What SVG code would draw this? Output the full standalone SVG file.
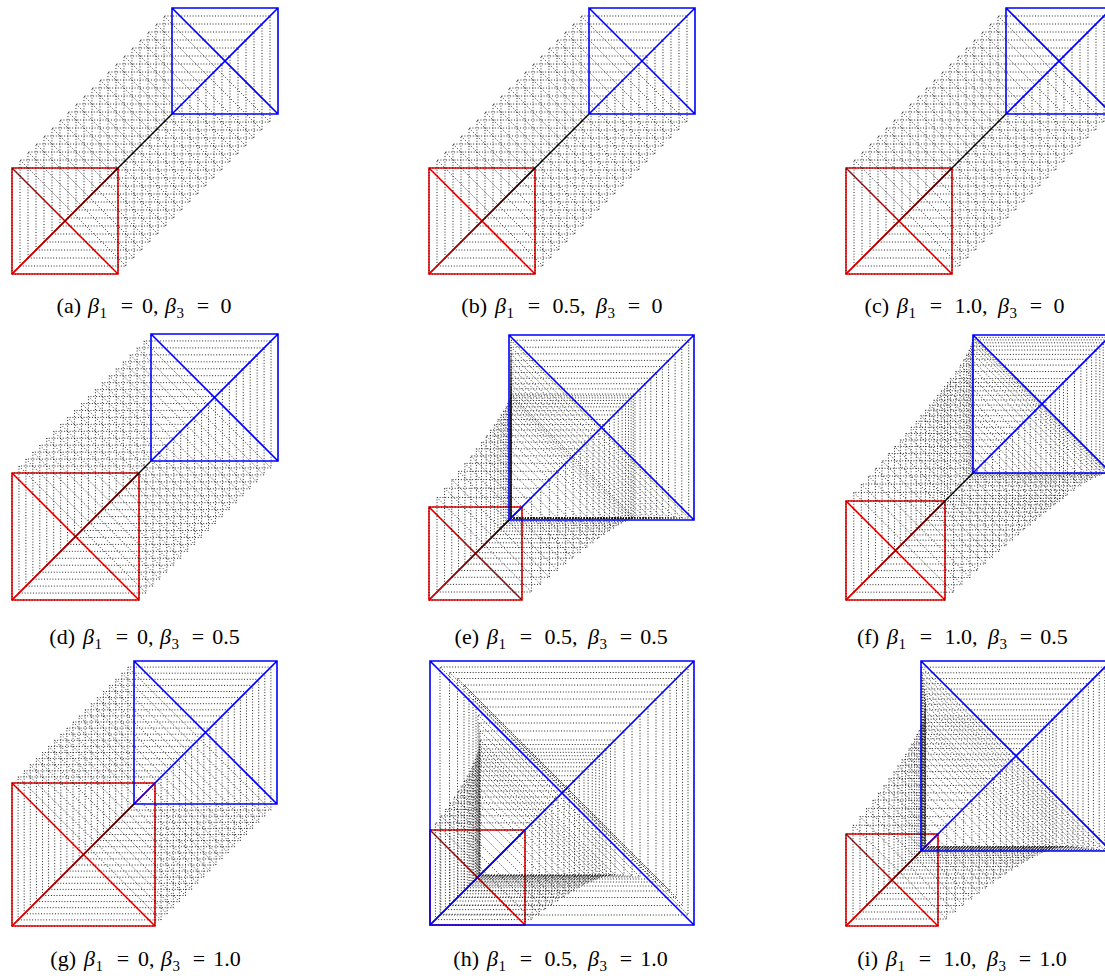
<svg xmlns="http://www.w3.org/2000/svg" width="1105" height="976" viewBox="0 0 1105 976">
<style>
.fr{fill:none;stroke:#111;stroke-width:0.9;stroke-dasharray:1 1.8}
.rd{fill:none;stroke:#f00;stroke-width:1.6}
.bl{fill:none;stroke:#00f;stroke-width:1.6}
.pl{fill:none;stroke:#000;stroke-width:1.4}
.gl{fill:none;stroke:url(#g);stroke-width:1.4}
.cap text{font-family:"Liberation Serif",serif;font-size:22px;fill:#000}
.it{font-style:italic}
.sb{font-size:15px}
</style>
<defs>
<linearGradient id="g" x1="0" y1="1" x2="1" y2="0">
<stop offset="0" stop-color="#e00000"/>
<stop offset="1" stop-color="#000"/>
</linearGradient>
</defs>
<rect width="1105" height="976" fill="#fff"/>

<g id="panel-a">
<path class="rd" d="M12 274h106v-106h-106zm0-106l106 106M12 274l106-106"/>
<path class="fr" d="M12 274h106v-106h-106zm0-106l106 106M20 266h106v-106h-106zm0-106l106 106M28 258h106v-106h-106zm0-106l106 106M36 250h106v-106h-106zm0-106l106 106M44 242h106v-106h-106zm0-106l106 106M52 234h106v-106h-106zm0-106l106 106M60 226h106v-106h-106zm0-106l106 106M68 218h106v-106h-106zm0-106l106 106M76 210h106v-106h-106zm0-106l106 106M84 202h106v-106h-106zm0-106l106 106M92 194h106v-106h-106zm0-106l106 106M100 186h106v-106h-106zm0-106l106 106M108 178h106v-106h-106zm0-106l106 106M116 170h106v-106h-106zm0-106l106 106M124 162h106v-106h-106zm0-106l106 106M132 154h106v-106h-106zm0-106l106 106M140 146h106v-106h-106zm0-106l106 106M148 138h106v-106h-106zm0-106l106 106M156 130h106v-106h-106zm0-106l106 106M164 122h106v-106h-106zm0-106l106 106"/>
<path class="bl" d="M172 114h106v-106h-106zm0-106l106 106M172 114l106-106"/>
<line class="gl" x1="12" y1="274" x2="118" y2="168"/>
<line class="pl" x1="118" y1="168" x2="172" y2="114"/>
</g>

<g id="panel-b">
<path class="rd" d="M429 274h106v-106h-106zm0-106l106 106M429 274l106-106"/>
<path class="fr" d="M429 274h106v-106h-106zm0-106l106 106M437 266h106v-106h-106zm0-106l106 106M445 258h106v-106h-106zm0-106l106 106M453 250h106v-106h-106zm0-106l106 106M461 242h106v-106h-106zm0-106l106 106M469 234h106v-106h-106zm0-106l106 106M477 226h106v-106h-106zm0-106l106 106M485 218h106v-106h-106zm0-106l106 106M493 210h106v-106h-106zm0-106l106 106M501 202h106v-106h-106zm0-106l106 106M509 194h106v-106h-106zm0-106l106 106M517 186h106v-106h-106zm0-106l106 106M525 178h106v-106h-106zm0-106l106 106M533 170h106v-106h-106zm0-106l106 106M541 162h106v-106h-106zm0-106l106 106M549 154h106v-106h-106zm0-106l106 106M557 146h106v-106h-106zm0-106l106 106M565 138h106v-106h-106zm0-106l106 106M573 130h106v-106h-106zm0-106l106 106M581 122h106v-106h-106zm0-106l106 106"/>
<path class="bl" d="M589 114h106v-106h-106zm0-106l106 106M589 114l106-106"/>
<line class="gl" x1="429" y1="274" x2="535" y2="168"/>
<line class="pl" x1="535" y1="168" x2="589" y2="114"/>
</g>

<g id="panel-c">
<path class="rd" d="M846 274h106v-106h-106zm0-106l106 106M846 274l106-106"/>
<path class="fr" d="M846 274h106v-106h-106zm0-106l106 106M854 266h106v-106h-106zm0-106l106 106M862 258h106v-106h-106zm0-106l106 106M870 250h106v-106h-106zm0-106l106 106M878 242h106v-106h-106zm0-106l106 106M886 234h106v-106h-106zm0-106l106 106M894 226h106v-106h-106zm0-106l106 106M902 218h106v-106h-106zm0-106l106 106M910 210h106v-106h-106zm0-106l106 106M918 202h106v-106h-106zm0-106l106 106M926 194h106v-106h-106zm0-106l106 106M934 186h106v-106h-106zm0-106l106 106M942 178h106v-106h-106zm0-106l106 106M950 170h106v-106h-106zm0-106l106 106M958 162h106v-106h-106zm0-106l106 106M966 154h106v-106h-106zm0-106l106 106M974 146h106v-106h-106zm0-106l106 106M982 138h106v-106h-106zm0-106l106 106M990 130h106v-106h-106zm0-106l106 106M998 122h106v-106h-106zm0-106l106 106"/>
<path class="bl" d="M1006 114h106v-106h-106zm0-106l106 106M1006 114l106-106"/>
<line class="gl" x1="846" y1="274" x2="952" y2="168"/>
<line class="pl" x1="952" y1="168" x2="1006" y2="114"/>
</g>

<g id="panel-d">
<path class="rd" d="M12 600h127v-127h-127zm0-127l127 127M12 600l127-127"/>
<path class="fr" d="M12 600h127v-127h-127zm0-127l127 127M18.95 593.05h127v-127h-127zm0-127l127 127M25.9 586.1h127v-127h-127zm0-127l127 127M32.85 579.15h127v-127h-127zm0-127l127 127M39.8 572.2h127v-127h-127zm0-127l127 127M46.75 565.25h127v-127h-127zm0-127l127 127M53.7 558.3h127v-127h-127zm0-127l127 127M60.65 551.35h127v-127h-127zm0-127l127 127M67.6 544.4h127v-127h-127zm0-127l127 127M74.55 537.45h127v-127h-127zm0-127l127 127M81.5 530.5h127v-127h-127zm0-127l127 127M88.45 523.55h127v-127h-127zm0-127l127 127M95.4 516.6h127v-127h-127zm0-127l127 127M102.35 509.65h127v-127h-127zm0-127l127 127M109.3 502.7h127v-127h-127zm0-127l127 127M116.25 495.75h127v-127h-127zm0-127l127 127M123.2 488.8h127v-127h-127zm0-127l127 127M130.15 481.85h127v-127h-127zm0-127l127 127M137.1 474.9h127v-127h-127zm0-127l127 127M144.05 467.95h127v-127h-127zm0-127l127 127"/>
<path class="bl" d="M151 461h127v-127h-127zm0-127l127 127M151 461l127-127"/>
<line class="gl" x1="12" y1="600" x2="139" y2="473"/>
<line class="pl" x1="139" y1="473" x2="151" y2="461"/>
</g>

<g id="panel-e">
<path class="rd" d="M429 600h93v-93h-93zm0-93l93 93M429 600l93-93"/>
<path class="fr" d="M429 600h93v-93h-93zm0-93l93 93M437 592h94.55v-94.55h-94.55zm0-94.55l94.55 94.55M444.6 584.4h96.1v-96.1h-96.1zm0-96.1l96.1 96.1M451.75 577.25h97.65v-97.65h-97.65zm0-97.65l97.65 97.65M458.5 570.5h99.2v-99.2h-99.2zm0-99.2l99.2 99.2M464.9 564.1h100.75v-100.75h-100.75zm0-100.75l100.75 100.75M470.8 558.2h102.3v-102.3h-102.3zm0-102.3l102.3 102.3M476.35 552.65h103.85v-103.85h-103.85zm0-103.85l103.85 103.85M481.5 547.5h105.4v-105.4h-105.4zm0-105.4l105.4 105.4M486.2 542.8h106.95v-106.95h-106.95zm0-106.95l106.95 106.95M490.5 538.5h108.5v-108.5h-108.5zm0-108.5l108.5 108.5M494.4 534.6h110.05v-110.05h-110.05zm0-110.05l110.05 110.05M497.9 531.1h111.6v-111.6h-111.6zm0-111.6l111.6 111.6M500.95 528.05h113.15v-113.15h-113.15zm0-113.15l113.15 113.15M503.6 525.4h114.7v-114.7h-114.7zm0-114.7l114.7 114.7M505.9 523.1h116.25v-116.25h-116.25zm0-116.25l116.25 116.25M507.7 521.3h117.8v-117.8h-117.8zm0-117.8l117.8 117.8M509.15 519.85h119.35v-119.35h-119.35zm0-119.35l119.35 119.35M510.2 518.8h120.9v-120.9h-120.9zm0-120.9l120.9 120.9M510.8 518.2h122.45v-122.45h-122.45zm0-122.45l122.45 122.45M511 518h124v-124h-124zm0-124l124 124M511 518h129.1v-129.1h-129.1zm0-129.1l129.1 129.1M511 518h134.3v-134.3h-134.3zm0-134.3l134.3 134.3M511 518h139.8v-139.8h-139.8zm0-139.8l139.8 139.8M511 518h145.5v-145.5h-145.5zm0-145.5l145.5 145.5M511 518h151.4v-151.4h-151.4zm0-151.4l151.4 151.4M511 518h157.6v-157.6h-157.6zm0-157.6l157.6 157.6M511 518h164.1v-164.1h-164.1zm0-164.1l164.1 164.1M511 518h170.8v-170.8h-170.8zm0-170.8l170.8 170.8M511 518h177.7v-177.7h-177.7zm0-177.7l177.7 177.7"/>
<path class="bl" d="M509 520h185v-185h-185zm0-185l185 185M509 520l185-185"/>
<line class="gl" x1="429" y1="600" x2="509" y2="520"/>
</g>

<g id="panel-f">
<path class="rd" d="M846 600h99v-99h-99zm0-99l99 99M846 600l99-99"/>
<path class="fr" d="M846 600h99v-99h-99zm0-99l99 99M853.8 592.2h99.8v-99.8h-99.8zm0-99.8l99.8 99.8M861.3 584.7h100.7v-100.7h-100.7zm0-100.7l100.7 100.7M868.5 577.5h101.5v-101.5h-101.5zm0-101.5l101.5 101.5M875.4 570.6h102.3v-102.3h-102.3zm0-102.3l102.3 102.3M882 564h103.2v-103.2h-103.2zm0-103.2l103.2 103.2M888.4 557.6h104.1v-104.1h-104.1zm0-104.1l104.1 104.1M894.5 551.5h105v-105h-105zm0-105l105 105M900.3 545.7h105.8v-105.8h-105.8zm0-105.8l105.8 105.8M905.8 540.2h106.7v-106.7h-106.7zm0-106.7l106.7 106.7M911.1 534.9h107.6v-107.6h-107.6zm0-107.6l107.6 107.6M916.2 529.8h108.5v-108.5h-108.5zm0-108.5l108.5 108.5M920.9 525.1h109.4v-109.4h-109.4zm0-109.4l109.4 109.4M925.5 520.5h110.3v-110.3h-110.3zm0-110.3l110.3 110.3M929.7 516.3h111.2v-111.2h-111.2zm0-111.2l111.2 111.2M933.8 512.2h112.2v-112.2h-112.2zm0-112.2l112.2 112.2M937.6 508.4h113.1v-113.1h-113.1zm0-113.1l113.1 113.1M941.2 504.8h114v-114h-114zm0-114l114 114M944.5 501.5h115v-115h-115zm0-115l115 115M947.6 498.4h115.9v-115.9h-115.9zm0-115.9l115.9 115.9M950.5 495.5h116.9v-116.9h-116.9zm0-116.9l116.9 116.9M955.7 490.3h118.8v-118.8h-118.8zm0-118.8l118.8 118.8M960.1 485.9h120.8v-120.8h-120.8zm0-120.8l120.8 120.8M963.8 482.2h122.9v-122.9h-122.9zm0-122.9l122.9 122.9M966.7 479.3h124.9v-124.9h-124.9zm0-124.9l124.9 124.9M969 477h127v-127h-127zm0-127l127 127M970.7 475.3h129.1v-129.1h-129.1zm0-129.1l129.1 129.1M971.9 474.1h131.3v-131.3h-131.3zm0-131.3l131.3 131.3M972.6 473.4h133.5v-133.5h-133.5zm0-133.5l133.5 133.5M972.9 473.1h135.7v-135.7h-135.7zm0-135.7l135.7 135.7"/>
<path class="bl" d="M973 473h138v-138h-138zm0-138l138 138M973 473l138-138"/>
<line class="gl" x1="846" y1="600" x2="945" y2="501"/>
<line class="pl" x1="945" y1="501" x2="973" y2="473"/>
</g>

<g id="panel-g">
<path class="rd" d="M12 926h143v-143h-143zm0-143l143 143M12 926l143-143"/>
<path class="fr" d="M12 926h143v-143h-143zm0-143l143 143M18.1 919.9h143v-143h-143zm0-143l143 143M24.2 913.8h143v-143h-143zm0-143l143 143M30.3 907.7h143v-143h-143zm0-143l143 143M36.4 901.6h143v-143h-143zm0-143l143 143M42.5 895.5h143v-143h-143zm0-143l143 143M48.6 889.4h143v-143h-143zm0-143l143 143M54.7 883.3h143v-143h-143zm0-143l143 143M60.8 877.2h143v-143h-143zm0-143l143 143M66.9 871.1h143v-143h-143zm0-143l143 143M73 865h143v-143h-143zm0-143l143 143M79.1 858.9h143v-143h-143zm0-143l143 143M85.2 852.8h143v-143h-143zm0-143l143 143M91.3 846.7h143v-143h-143zm0-143l143 143M97.4 840.6h143v-143h-143zm0-143l143 143M103.5 834.5h143v-143h-143zm0-143l143 143M109.6 828.4h143v-143h-143zm0-143l143 143M115.7 822.3h143v-143h-143zm0-143l143 143M121.8 816.2h143v-143h-143zm0-143l143 143M127.9 810.1h143v-143h-143zm0-143l143 143"/>
<path class="bl" d="M134 804h143v-143h-143zm0-143l143 143M134 804l143-143"/>
<line class="gl" x1="12" y1="926" x2="134" y2="804"/>
</g>

<g id="panel-h">
<path class="rd" d="M430 925h95v-95h-95zm0-95l95 95M430 925l95-95"/>
<path class="fr" d="M430 925h95v-95h-95zm0-95l95 95M435.4 919.6h96.75v-96.75h-96.75zm0-96.75l96.75 96.75M440.75 914.25h98.5v-98.5h-98.5zm0-98.5l98.5 98.5M445.4 909.6h100.25v-100.25h-100.25zm0-100.25l100.25 100.25M450 905h102v-102h-102zm0-102l102 102M454 901h104v-104h-104zm0-104l104 104M458 897h106v-106h-106zm0-106l106 106M461.25 893.75h108v-108h-108zm0-108l108 108M464.5 890.5h110v-110h-110zm0-110l110 110M467.25 887.75h112v-112h-112zm0-112l112 112M470 885h114v-114h-114zm0-114l114 114M471.9 883.1h116.25v-116.25h-116.25zm0-116.25l116.25 116.25M473.75 881.25h118.5v-118.5h-118.5zm0-118.5l118.5 118.5M475.25 879.75h120.5v-120.5h-120.5zm0-120.5l120.5 120.5M476.75 878.25h122.5v-122.5h-122.5zm0-122.5l122.5 122.5M477.9 877.1h124.75v-124.75h-124.75zm0-124.75l124.75 124.75M479 876h127v-127h-127zm0-127l127 127M479.5 875.5h131v-131h-131zm0-131l131 131M480 875h135v-135h-135zm0-135l135 135M480 875h144v-144h-144zm0-144l144 144M479 876h153v-153h-153zm0-153l153 153M478 877h162v-162h-162zm0-162l162 162M476 879h172v-172h-172zm0-172l172 172M473 882h183v-183h-183zm0-183l183 183M469 886h194v-194h-194zm0-194l194 194M464 891h206v-206h-206zm0-206l206 206M457.5 897.5h219v-219h-219zm0-219l219 219M449.5 905.5h233v-233h-233zm0-233l233 233M440 915h248v-248h-248zm0-248l248 248"/>
<path class="bl" d="M430 925h264v-264h-264zm0-264l264 264M430 925l264-264"/>
</g>

<g id="panel-i">
<path class="rd" d="M846 926h92v-92h-92zm0-92l92 92M846 926l92-92"/>
<path class="fr" d="M846 926h92v-92h-92zm0-92l92 92M853 919h93.7v-93.7h-93.7zm0-93.7l93.7 93.7M860 912h95.4v-95.4h-95.4zm0-95.4l95.4 95.4M866.5 905.5h97.1v-97.1h-97.1zm0-97.1l97.1 97.1M873 899h98.9v-98.9h-98.9zm0-98.9l98.9 98.9M878.5 893.5h100.7v-100.7h-100.7zm0-100.7l100.7 100.7M884 888h102.6v-102.6h-102.6zm0-102.6l102.6 102.6M889 883h104.5v-104.5h-104.5zm0-104.5l104.5 104.5M894 878h106.4v-106.4h-106.4zm0-106.4l106.4 106.4M898 874h108.3v-108.3h-108.3zm0-108.3l108.3 108.3M902 870h110.3v-110.3h-110.3zm0-110.3l110.3 110.3M905.5 866.5h112.3v-112.3h-112.3zm0-112.3l112.3 112.3M909 863h114.4v-114.4h-114.4zm0-114.4l114.4 114.4M911.75 860.25h116.5v-116.5h-116.5zm0-116.5l116.5 116.5M914.5 857.5h118.6v-118.6h-118.6zm0-118.6l118.6 118.6M916.75 855.25h120.8v-120.8h-120.8zm0-120.8l120.8 120.8M919 853h123v-123h-123zm0-123l123 123M920.5 851.5h125.2v-125.2h-125.2zm0-125.2l125.2 125.2M922 850h127.5v-127.5h-127.5zm0-127.5l127.5 127.5M923 849h129.8v-129.8h-129.8zm0-129.8l129.8 129.8M924 848h132.2v-132.2h-132.2zm0-132.2l132.2 132.2M925 847h137.1v-137.1h-137.1zm0-137.1l137.1 137.1M925.5 846.5h142.2v-142.2h-142.2zm0-142.2l142.2 142.2M925.5 846.5h147.4v-147.4h-147.4zm0-147.4l147.4 147.4M925 847h152.9v-152.9h-152.9zm0-152.9l152.9 152.9M924.5 847.5h158.5v-158.5h-158.5zm0-158.5l158.5 158.5M924 848h164.4v-164.4h-164.4zm0-164.4l164.4 164.4M923 849h170.4v-170.4h-170.4zm0-170.4l170.4 170.4M922.5 849.5h176.7v-176.7h-176.7zm0-176.7l176.7 176.7M921.5 850.5h183.3v-183.3h-183.3zm0-183.3l183.3 183.3"/>
<path class="bl" d="M921 851h190v-190h-190zm0-190l190 190M921 851l190-190"/>
<line class="gl" x1="846" y1="926" x2="921" y2="851"/>
</g>

<g id="captions" class="cap">
<g id="cap-a"><text x="81" y="313" text-anchor="end">(a)</text><text y="313"><tspan x="88" class="it">β</tspan><tspan x="99.5" dy="5" class="sb">1</tspan><tspan x="120.8" dy="-5">=</tspan><tspan x="142">0,</tspan><tspan x="165" class="it">β</tspan><tspan x="176.5" dy="5" class="sb">3</tspan><tspan x="196.8" dy="-5">=</tspan><tspan x="220.5">0</tspan></text></g>
<g id="cap-b"><text x="487" y="313" text-anchor="end">(b)</text><text y="313"><tspan x="495" class="it">β</tspan><tspan x="506.5" dy="5" class="sb">1</tspan><tspan x="527.8" dy="-5">=</tspan><tspan x="552.5">0.5,</tspan><tspan x="596" class="it">β</tspan><tspan x="607.5" dy="5" class="sb">3</tspan><tspan x="627.8" dy="-5">=</tspan><tspan x="651.5">0</tspan></text></g>
<g id="cap-c"><text x="889" y="313" text-anchor="end">(c)</text><text y="313"><tspan x="897" class="it">β</tspan><tspan x="908.5" dy="5" class="sb">1</tspan><tspan x="929.8" dy="-5">=</tspan><tspan x="954.5">1.0,</tspan><tspan x="998" class="it">β</tspan><tspan x="1009.5" dy="5" class="sb">3</tspan><tspan x="1029.8" dy="-5">=</tspan><tspan x="1053.5">0</tspan></text></g>
<g id="cap-d"><text x="75" y="644" text-anchor="end">(d)</text><text y="644"><tspan x="83" class="it">β</tspan><tspan x="94.5" dy="5" class="sb">1</tspan><tspan x="115.8" dy="-5">=</tspan><tspan x="137">0,</tspan><tspan x="160" class="it">β</tspan><tspan x="171.5" dy="5" class="sb">3</tspan><tspan x="191.8" dy="-5">=</tspan><tspan x="212.25">0.5</tspan></text></g>
<g id="cap-e"><text x="479" y="644" text-anchor="end">(e)</text><text y="644"><tspan x="487" class="it">β</tspan><tspan x="498.5" dy="5" class="sb">1</tspan><tspan x="519.8" dy="-5">=</tspan><tspan x="544.5">0.5,</tspan><tspan x="588" class="it">β</tspan><tspan x="599.5" dy="5" class="sb">3</tspan><tspan x="619.8" dy="-5">=</tspan><tspan x="640.25">0.5</tspan></text></g>
<g id="cap-f"><text x="879" y="644" text-anchor="end">(f)</text><text y="644"><tspan x="887" class="it">β</tspan><tspan x="898.5" dy="5" class="sb">1</tspan><tspan x="919.8" dy="-5">=</tspan><tspan x="944.5">1.0,</tspan><tspan x="988" class="it">β</tspan><tspan x="999.5" dy="5" class="sb">3</tspan><tspan x="1019.8" dy="-5">=</tspan><tspan x="1040.25">0.5</tspan></text></g>
<g id="cap-g"><text x="76" y="966" text-anchor="end">(g)</text><text y="966"><tspan x="84" class="it">β</tspan><tspan x="95.5" dy="5" class="sb">1</tspan><tspan x="116.8" dy="-5">=</tspan><tspan x="138">0,</tspan><tspan x="161" class="it">β</tspan><tspan x="172.5" dy="5" class="sb">3</tspan><tspan x="192.8" dy="-5">=</tspan><tspan x="213.25">1.0</tspan></text></g>
<g id="cap-h"><text x="479" y="966" text-anchor="end">(h)</text><text y="966"><tspan x="487" class="it">β</tspan><tspan x="498.5" dy="5" class="sb">1</tspan><tspan x="519.8" dy="-5">=</tspan><tspan x="544.5">0.5,</tspan><tspan x="588" class="it">β</tspan><tspan x="599.5" dy="5" class="sb">3</tspan><tspan x="619.8" dy="-5">=</tspan><tspan x="640.25">1.0</tspan></text></g>
<g id="cap-i"><text x="878" y="966" text-anchor="end">(i)</text><text y="966"><tspan x="886" class="it">β</tspan><tspan x="897.5" dy="5" class="sb">1</tspan><tspan x="918.8" dy="-5">=</tspan><tspan x="943.5">1.0,</tspan><tspan x="987" class="it">β</tspan><tspan x="998.5" dy="5" class="sb">3</tspan><tspan x="1018.8" dy="-5">=</tspan><tspan x="1039.25">1.0</tspan></text></g>
</g>
</svg>
